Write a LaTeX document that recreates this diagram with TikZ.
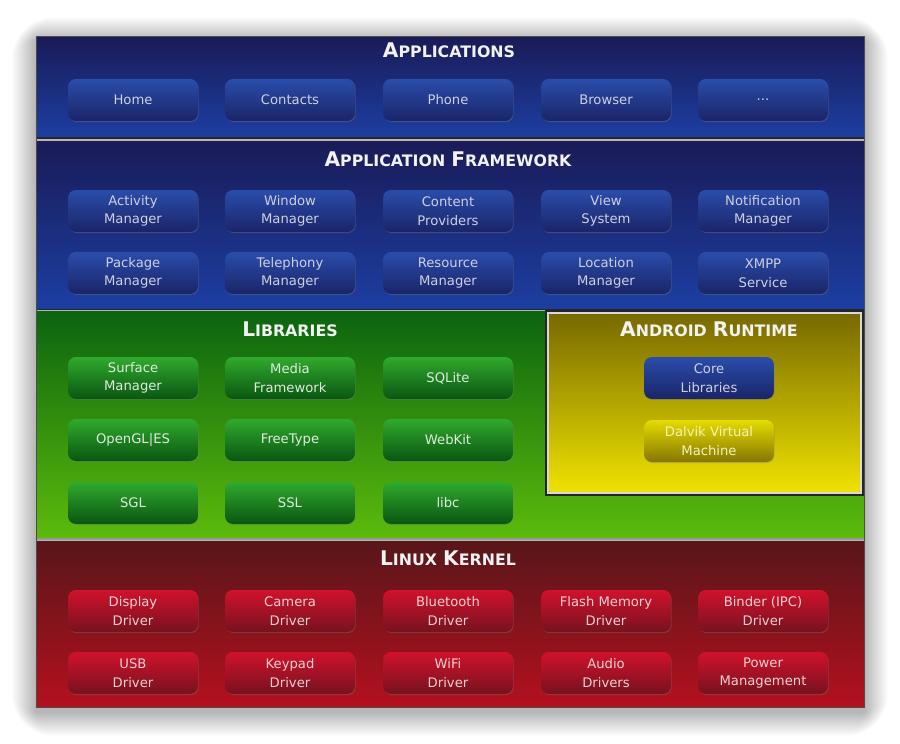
\documentclass[tikz,border=0pt]{standalone}
\usepackage{fontspec}
\setmainfont{DejaVu Sans}
\usetikzlibrary{shadows}

% layer colours
\definecolor{appTop}{HTML}{1A1B57}
\definecolor{appBot}{HTML}{1C3EA2}
\definecolor{libTop}{HTML}{0B640F}
\definecolor{libBot}{HTML}{5CBA0C}
\definecolor{rtTop}{HTML}{786A00}
\definecolor{rtBot}{HTML}{EEE200}
\definecolor{kerTop}{HTML}{58161A}
\definecolor{kerBot}{HTML}{B4101E}
% box colours
\definecolor{bbTop}{HTML}{2A4DAA}
\definecolor{bbBot}{HTML}{1A2468}
\definecolor{gbTop}{HTML}{30AA2C}
\definecolor{gbBot}{HTML}{0A5612}
\definecolor{rbTop}{HTML}{D0122C}
\definecolor{rbBot}{HTML}{76121F}
\definecolor{ybTop}{HTML}{E6DC00}
\definecolor{ybBot}{HTML}{857600}

\newcommand\boxfont{\fontsize{7.5}{10.6}\selectfont}
\newcommand\capword[2]{{\fontsize{11.5}{12}\selectfont #1}{\fontsize{9}{12}\selectfont #2}}

\tikzset{
  block/.style={rounded corners=4.5pt, minimum width=2.6cm,
    minimum height=0.84cm, align=center, inner sep=1pt, font=\boxfont,
    drop shadow={opacity=0.35, shadow xshift=0.4pt, shadow yshift=-0.6pt}},
  bluebox/.style={block, top color=bbTop, bottom color=bbBot,
    text=blue!10!white!78!gray},
  greenbox/.style={block, top color=gbTop, bottom color=gbBot,
    text=green!6!white!84!gray},
  redbox/.style={block, top color=rbTop, bottom color=rbBot,
    text=red!12!white!84!gray},
  yellowbox/.style={block, top color=ybTop, bottom color=ybBot,
    text=yellow!25!white!90!gray},
  layertitle/.style={font=\bfseries, text=white!90!gray, inner sep=0pt}
}

\begin{document}
\begin{tikzpicture}[x=0.02cm,y=-0.02cm]
  \useasboundingbox (0,0) rectangle (900,744);
  \fill[white] (0,0) rectangle (900,744);

  % soft shadow round the stack
  \foreach \d in {1,2,...,24}
    \fill[black,opacity=0.012,rounded corners=\d] ({36-\d},{41-\d})
      rectangle ({864+\d},{712+\d});

  % the four layers
  \shade[top color=appTop,bottom color=appBot] (36,36) rectangle (864,137);
  \shade[top color=appTop,bottom color=appBot] (36,141) rectangle (864,308);
  \shade[top color=libTop,bottom color=libBot] (36,311) rectangle (864,537);
  \shade[top color=kerTop,bottom color=kerBot] (36,541) rectangle (864,707);
  \draw[black!85,line width=1pt] (36,138) -- (864,138);
  \draw[black!85,line width=.6pt] (36,309.5) -- (864,309.5);
  \draw[gray!80,line width=1.4pt] (36,539) -- (864,539);
  \draw[black!70,line width=.4pt] (36,36) rectangle (864,707);

  % android runtime panel
  \draw[black!85,line width=1pt] (546,311) rectangle (863,495);
  \draw[white!70!gray,line width=.7pt] (548,313) rectangle (861,493);
  \shade[top color=rtTop,bottom color=rtBot] (549.5,314.5) rectangle (859.5,491.5);

  % layer titles
  \node[layertitle] (tApps) at (449,50) {\capword{A}{PPLICATIONS}};
  \node[layertitle] (tFrame) at (448,159)
    {\capword{A}{PPLICATION} \capword{F}{RAMEWORK}};
  \node[layertitle] (tLibs) at (290,329) {\capword{L}{IBRARIES}};
  \node[layertitle] (tRuntime) at (709,329)
    {\capword{A}{NDROID} \capword{R}{UNTIME}};
  \node[layertitle] (tKernel) at (448,558)
    {\capword{L}{INUX} \capword{K}{ERNEL}};

  % applications
  \node[bluebox] (home) at (133,100) {Home};
  \node[bluebox] (contacts) at (290,100) {Contacts};
  \node[bluebox] (phone) at (448,100) {Phone};
  \node[bluebox] (browser) at (606,100) {Browser};
  \node[bluebox] (moreApps) at (763,100) {...};

  % application framework
  \node[bluebox] (activityMgr) at (133,211) {Activity\\Manager};
  \node[bluebox] (windowMgr) at (290,211) {Window\\Manager};
  \node[bluebox] (contentProv) at (448,211) {Content\\Providers};
  \node[bluebox] (viewSys) at (606,211) {View\\System};
  \node[bluebox] (notifMgr) at (763,211) {Notification\\Manager};
  \node[bluebox] (packageMgr) at (133,273) {Package\\Manager};
  \node[bluebox] (telephonyMgr) at (290,273) {Telephony\\Manager};
  \node[bluebox] (resourceMgr) at (448,273) {Resource\\Manager};
  \node[bluebox] (locationMgr) at (606,273) {Location\\Manager};
  \node[bluebox] (xmpp) at (763,273) {XMPP\\Service};

  % libraries
  \node[greenbox] (surfaceMgr) at (133,378) {Surface\\Manager};
  \node[greenbox] (mediaFw) at (290,378) {Media\\Framework};
  \node[greenbox] (sqlite) at (448,378) {SQLite};
  \node[greenbox] (opengl) at (133,440) {OpenGL|ES};
  \node[greenbox] (freetype) at (290,440) {FreeType};
  \node[greenbox] (webkit) at (448,440) {WebKit};
  \node[greenbox] (sgl) at (133,503) {SGL};
  \node[greenbox] (ssl) at (290,503) {SSL};
  \node[greenbox] (libc) at (448,503) {libc};

  % android runtime
  \node[bluebox] (coreLibs) at (709,378) {Core\\Libraries};
  \node[yellowbox] (dalvik) at (709,441) {Dalvik Virtual\\Machine};

  % linux kernel
  \node[redbox] (displayDrv) at (133,611) {Display\\Driver};
  \node[redbox] (cameraDrv) at (290,611) {Camera\\Driver};
  \node[redbox] (btDrv) at (448,611) {Bluetooth\\Driver};
  \node[redbox] (flashDrv) at (606,611) {Flash Memory\\Driver};
  \node[redbox] (binderDrv) at (763,611) {Binder (IPC)\\Driver};
  \node[redbox] (usbDrv) at (133,673) {USB\\Driver};
  \node[redbox] (keypadDrv) at (290,673) {Keypad\\Driver};
  \node[redbox] (wifiDrv) at (448,673) {WiFi\\Driver};
  \node[redbox] (audioDrv) at (606,673) {Audio\\Drivers};
  \node[redbox] (powerMgmt) at (763,673) {Power\\Management};
\end{tikzpicture}
\end{document}
